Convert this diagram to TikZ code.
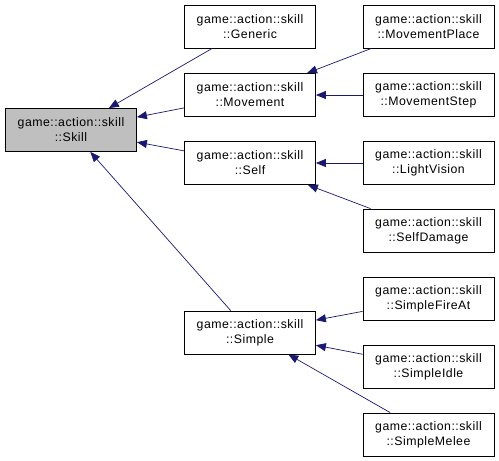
\documentclass[tikz,border=0pt]{standalone}
\usepackage{fontspec}
\setmainfont[LetterSpace=4]{Liberation Sans}
\usepackage{xcolor}
\usepackage{tikz}
\usetikzlibrary{arrows.meta, positioning, calc}
\definecolor{midnightblue}{RGB}{25,25,112}

\begin{document}
\begin{tikzpicture}[x=1pt, y=-1pt,
  cls/.style={draw=black, line width=0.8pt, fill=white, align=center,
    minimum width=131pt, minimum height=43pt, inner sep=0pt,
    font=\fontsize{12.3}{15}\selectfont},
  base/.style={cls, fill=black!25},
  inh/.style={midnightblue, line width=0.7pt,
    -{Triangle[length=10pt, width=8pt]}}]
  \useasboundingbox (0,0) rectangle (499,461);

  % Base class
  \node[base] (skill) at (71,130) {game::action::skill\\::Skill};

  % Direct subclasses
  \node[cls] (generic)  at (250,26.5)  {game::action::skill\\::Generic};
  \node[cls] (movement) at (250,95)    {game::action::skill\\::Movement};
  \node[cls] (self)     at (250,163)   {game::action::skill\\::Self};
  \node[cls] (simple)   at (250,332.5) {game::action::skill\\::Simple};

  % Leaf classes
  \node[cls] (mplace)  at (428.5,26.5)  {game::action::skill\\::MovementPlace};
  \node[cls] (mstep)   at (428.5,95)    {game::action::skill\\::MovementStep};
  \node[cls] (light)   at (428.5,163)   {game::action::skill\\::LightVision};
  \node[cls] (sdamage) at (428.5,230.5) {game::action::skill\\::SelfDamage};
  \node[cls] (fireat)  at (428.5,299)   {game::action::skill\\::SimpleFireAt};
  \node[cls] (idle)    at (428.5,367)   {game::action::skill\\::SimpleIdle};
  \node[cls] (melee)   at (428.5,434.5) {game::action::skill\\::SimpleMelee};

  % Inheritance
  \draw[inh] (generic)  -- (skill);
  \draw[inh] (movement) -- (skill);
  \draw[inh] (self)     -- (skill);
  \draw[inh] (simple)   -- (skill);
  \draw[inh] (mplace)   -- (movement);
  \draw[inh] (mstep)    -- (movement);
  \draw[inh] (light)    -- (self);
  \draw[inh] (sdamage)  -- (self);
  \draw[inh] (fireat)   -- (simple);
  \draw[inh] (idle)     -- (simple);
  \draw[inh] (melee)    -- (simple);
\end{tikzpicture}
\end{document}
